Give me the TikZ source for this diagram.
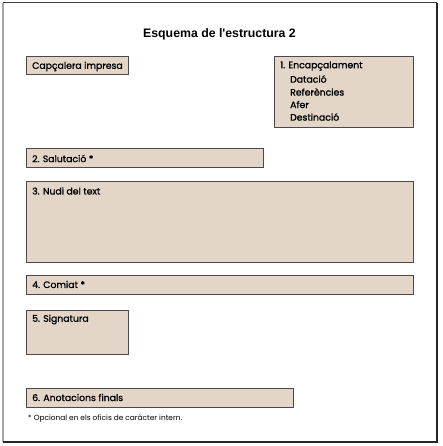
\documentclass[tikz,border=0pt]{standalone}
\usepackage{fontspec}
\setmainfont{Poppins}
\newfontfamily\labelfont{Poppins}[FakeBold=1.2]
\newfontfamily\titlefont{Liberation Sans}
\usepackage{tikz}

\definecolor{BoxBeige}{HTML}{E3D5C8}
\definecolor{BoxEdge}{HTML}{4F4747}

\tikzset{
    boxarea/.style={fill=BoxBeige, draw=BoxEdge, line width=1pt},
    boxlabel/.style={anchor=west, inner sep=0pt, font=\labelfont\fontsize{9.3}{11}\selectfont},
}

\begin{document}
\begin{tikzpicture}[x=1pt, y=-1pt]
            \useasboundingbox (0,0) rectangle (442,446);

            % Page frame
            \fill [white] (3,3) rectangle (437,442);
            \draw [line width=1.8pt, color=gray!70] (3,442) -- (3,3);
            \draw [line width=1pt, color=black!75] (3,3) -- (437,3);
            \draw [line width=2.4pt, color=black!85] (437,3) -- (437,442) -- (3,442);

            % Title
            \node (title) at (219.5,34) {\titlefont\bfseries\fontsize{12.3}{14}\selectfont Esquema de l'estructura 2};

            % One-line boxes
            \foreach \name/\xa/\ya/\xb/\yb/\txt in {
                    impresa/26/57/128/75/{Capçalera impresa},
                    salutacio/26/149/263/168/{2. Salutació *},
                    comiat/26/275/413/294/{4. Comiat *},
                    anotacions/26/388/293/407/{6. Anotacions finals}}
                {
                    \draw [boxarea] (\xa,\ya) rectangle (\xb,\yb);
                    \node (\name) [boxlabel] at (\xa+6,\ya+9.5) {\txt};
                }

            % Taller boxes, label on top
            \draw [boxarea] (26,182) rectangle (413,262);
            \node (nucli) [boxlabel] at (32,191) {3. Nudi del text};
            \draw [boxarea] (26,310) rectangle (128,354);
            \node (signatura) [boxlabel] at (32,319.5) {5. Signatura};

            % Encapçalament and its parts
            \draw [boxarea] (274,57) rectangle (413,128);
            \node (encap) [boxlabel] at (280,66) {1. Encapçalament};
            \foreach \y/\part in {79/Datació, 92/Referències, 104.5/Afer, 117/Destinació}
                \node [boxlabel] at (290,\y) {\part};

            % Footnote
            \node (nota) [anchor=west, inner sep=0pt, font=\fontsize{7.4}{9}\selectfont] at (28,419) {* Opcional en els oficis de caràcter intern.};
        \end{tikzpicture}
\end{document}
